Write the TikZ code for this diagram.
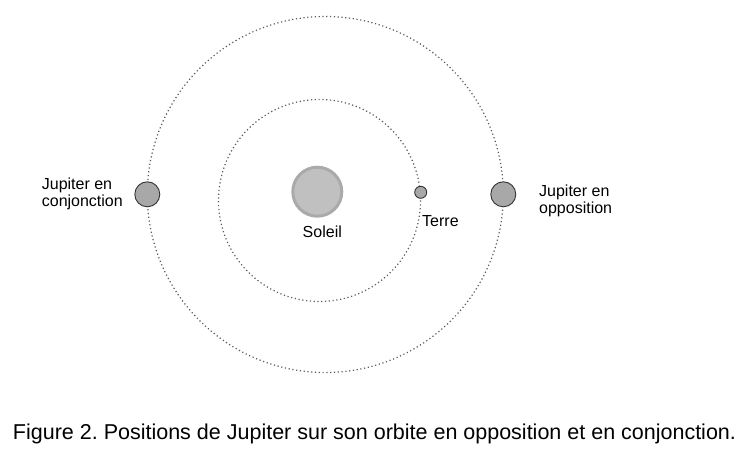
\documentclass[tikz,border=0pt]{standalone}
\usepackage{fontspec}
\setmainfont{Liberation Sans}
\usetikzlibrary{positioning}
\frenchspacing
\definecolor{orbitgray}{RGB}{90,90,90}
\definecolor{planetgray}{RGB}{168,168,168}
\definecolor{sunfill}{RGB}{192,192,192}
\definecolor{sunring}{RGB}{170,170,170}
\begin{document}
\begin{tikzpicture}[x=1pt,y=-1pt,
  orbit/.style={orbitgray,line width=1.2pt,dash pattern=on 1.2pt off 2.6pt},
  planet/.style={circle,draw=black!80,fill=planetgray,line width=0.9pt,inner sep=0pt},
  sunstyle/.style={circle,draw=sunring,fill=sunfill,line width=3pt,inner sep=0pt,minimum size=49pt},
  lbl/.style={font=\fontsize{16}{17.5}\selectfont,inner sep=0pt,align=left}]
\useasboundingbox (0,0) rectangle (755,455);
% orbites
\draw[orbit] (319.5,200.5) circle (101);
\draw[orbit] (325.3,194.5) circle (178);
% astres
\node[sunstyle] (soleil) at (317.3,191.7) {};
\node[planet,minimum size=12pt] (terre) at (420.7,192.3) {};
\node[planet,minimum size=25pt] (jupconj) at (147.3,194.3) {};
\node[planet,minimum size=25pt] (jupopp) at (503.3,194.3) {};
% textes
\node[lbl,below=8pt of soleil,xshift=5pt] (soleiltxt) {Soleil};
\node[lbl,anchor=west] (terretxt) at (422,221) {Terre};
\node[lbl,anchor=east] (conjtxt) at (123,194) {Jupiter en\\conjonction};
\node[lbl,anchor=west] (opptxt) at (539,201) {Jupiter en\\opposition};
\node[font=\fontsize{21.5}{24}\selectfont,inner sep=0pt,anchor=base] (legende) at (374.5,439) {Figure 2. Positions de Jupiter sur son orbite en opposition et en conjonction.};
\end{tikzpicture}
\end{document}
